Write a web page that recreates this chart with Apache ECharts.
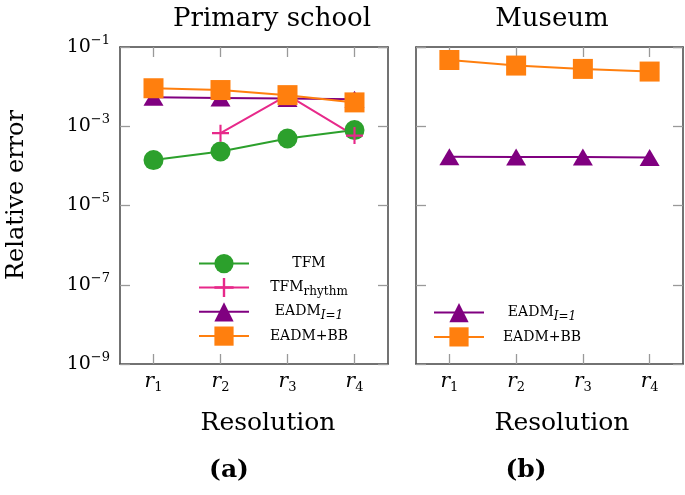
<!DOCTYPE html>
<html>
<head>
<meta charset="utf-8">
<script src="https://cdn.jsdelivr.net/npm/echarts@6/dist/echarts.min.js"></script>
<style>
  html, body { margin: 0; padding: 0; background: #fff; }
  #main { width: 685px; height: 495px; }
</style>
</head>
<body>
<div id="main"></div>
<script>
// resolutions on the x axis
const resolutions = ['r1', 'r2', 'r3', 'r4'];

// (a) Primary school
const schoolTFM = [1.4e-4, 2.3e-4, 4.9e-4, 8.0e-4];
const schoolTFMRhythm = [null, 6.7e-4, 6.1e-3, 5.8e-4];
const schoolEADM = [5.4e-3, 5.2e-3, 5.0e-3, 4.8e-3];
const schoolEADMBB = [9.1e-3, 8.2e-3, 6.1e-3, 4.0e-3];

// (b) Museum
const museumEADM = [1.7e-4, 1.68e-4, 1.67e-4, 1.63e-4];
const museumEADMBB = [4.7e-2, 3.4e-2, 2.8e-2, 2.4e-2];

const SERIF = '"DejaVu Serif", serif';
const GREEN = '#2ca02c', PINK = '#e7298a', PURPLE = '#800080', ORANGE = '#ff7f0e';
const PLUS = 'path://M7,0H9V16H7ZM0,7H16V9H0Z';

let myChart = echarts.init(document.getElementById('main'), null, { renderer: 'canvas' });

let xAxisFor = (grid, pos) => ({
    type: 'category',
    gridIndex: grid,
    position: pos,
    data: resolutions,
    boundaryGap: true,
    axisLine: { show: true, lineStyle: { color: '#444', width: 1.5 } },
    axisTick: { show: true, inside: true, alignWithLabel: true, length: 10, lineStyle: { color: '#999', width: 1.3 } },
    axisLabel: {
        show: pos === 'bottom',
        margin: 6,
        formatter: (v) => '{r|r}{s|' + v.slice(1) + '}',
        rich: {
            r: { fontFamily: SERIF, fontStyle: 'italic', fontSize: 20, lineHeight: 24, color: '#000', verticalAlign: 'middle' },
            s: { fontFamily: SERIF, fontSize: 13, lineHeight: 13, color: '#000', verticalAlign: 'bottom' }
        }
    },
    splitLine: { show: false }
});

let yAxisFor = (grid, pos, labels) => ({
    type: 'log',
    logBase: 10,
    gridIndex: grid,
    position: pos,
    min: 1e-9,
    max: 1e-1,
    interval: 2,
    axisLine: { show: true, lineStyle: { color: '#444', width: 1.5 } },
    axisTick: { show: true, inside: true, length: 10, lineStyle: { color: '#999', width: 1.3 } },
    minorTick: { show: false },
    splitLine: { show: false },
    axisLabel: {
        show: labels,
        margin: 10,
        formatter: (v) => '{b|10}{s|\u2212' + Math.abs(Math.round(Math.log10(v))) + '}',
        rich: {
            b: { fontFamily: SERIF, fontSize: 19, lineHeight: 26, color: '#000', verticalAlign: 'middle' },
            s: { fontFamily: SERIF, fontSize: 13, lineHeight: 13, color: '#000', verticalAlign: 'top' }
        }
    }
});

let lineSeries = (name, data, color, symbol, size, xi, yi) => ({
    name: name,
    type: 'line',
    xAxisIndex: xi,
    yAxisIndex: yi,
    data: data,
    symbol: symbol,
    symbolSize: size,
    showAllSymbol: true,
    connectNulls: false,
    itemStyle: { color: color },
    lineStyle: { color: color, width: 2 },
    emphasis: { disabled: true },
    animation: false
});

let legendRich = {
    n: { fontFamily: SERIF, fontSize: 14, lineHeight: 20, color: '#000', verticalAlign: 'middle', align: 'center' },
    sub: { fontFamily: SERIF, fontSize: 12, lineHeight: 12, color: '#000', verticalAlign: 'bottom', align: 'center' },
    isub: { fontFamily: SERIF, fontStyle: 'italic', fontSize: 12, lineHeight: 12, color: '#000', verticalAlign: 'bottom', align: 'center' }
};
let legendFormat = (name) => {
    if (name === 'TFM_rhythm') return '{n|TFM}{sub|rhythm}';
    if (name === 'EADM_I=1') return '{n|EADM}{isub|I=1}';
    return '{n|' + name + '}';
};

let txt = (text, x, y, size, extra) => Object.assign({
    type: 'text', x: x, y: y,
    style: { text: text, font: size + 'px ' + SERIF, fill: '#000', textAlign: 'center', textVerticalAlign: 'middle' }
}, extra || {});

myChart.setOption({
    animation: false,
    grid: [
        { left: 120, top: 47, width: 268, height: 317 },
        { left: 416, top: 47, width: 267, height: 317 }
    ],
    xAxis: [xAxisFor(0, 'bottom'), xAxisFor(0, 'top'), xAxisFor(1, 'bottom'), xAxisFor(1, 'top')],
    yAxis: [yAxisFor(0, 'left', true), yAxisFor(0, 'right', false), yAxisFor(1, 'left', false), yAxisFor(1, 'right', false)],
    legend: [
        {
            orient: 'vertical', left: 198, top: 254, padding: 0,
            itemWidth: 50, itemHeight: 24, itemGap: 4.7,
            data: ['TFM', 'TFM_rhythm', 'EADM_I=1', 'EADM+BB'],
            formatter: legendFormat,
            textStyle: { width: 110, rich: legendRich },
            selectedMode: false
        },
        {
            orient: 'vertical', left: 433, top: 303, padding: 0,
            itemWidth: 50, itemHeight: 24, itemGap: 4.7,
            data: ['EADM_I=1', 'EADM+BB'],
            formatter: legendFormat,
            textStyle: { width: 106, rich: legendRich },
            selectedMode: false
        }
    ],
    series: [
        lineSeries('TFM', schoolTFM, GREEN, 'circle', 20, 0, 0),
        lineSeries('TFM_rhythm', schoolTFMRhythm, PINK, PLUS, 17, 0, 0),
        lineSeries('EADM_I=1', schoolEADM, PURPLE, 'triangle', [20, 17], 0, 0),
        lineSeries('EADM+BB', schoolEADMBB, ORANGE, 'rect', 20, 0, 0),
        lineSeries('EADM_I=1', museumEADM, PURPLE, 'triangle', [20, 17], 2, 2),
        lineSeries('EADM+BB', museumEADMBB, ORANGE, 'rect', 20, 2, 2)
    ],
    graphic: [
        txt('Primary school', 272, 19, 26),
        txt('Museum', 552, 19, 26),
        txt('Relative error', 17, 195, 24, { rotation: Math.PI / 2 }),
        txt('Resolution', 268, 423, 25),
        txt('Resolution', 562, 423, 25),
        txt('(a)', 229, 470, 25, { style: { text: '(a)', font: 'bold 25px ' + SERIF, fill: '#000', textAlign: 'center', textVerticalAlign: 'middle' } }),
        txt('(b)', 526, 470, 25, { style: { text: '(b)', font: 'bold 25px ' + SERIF, fill: '#000', textAlign: 'center', textVerticalAlign: 'middle' } })
    ]
});
</script>
</body>
</html>
